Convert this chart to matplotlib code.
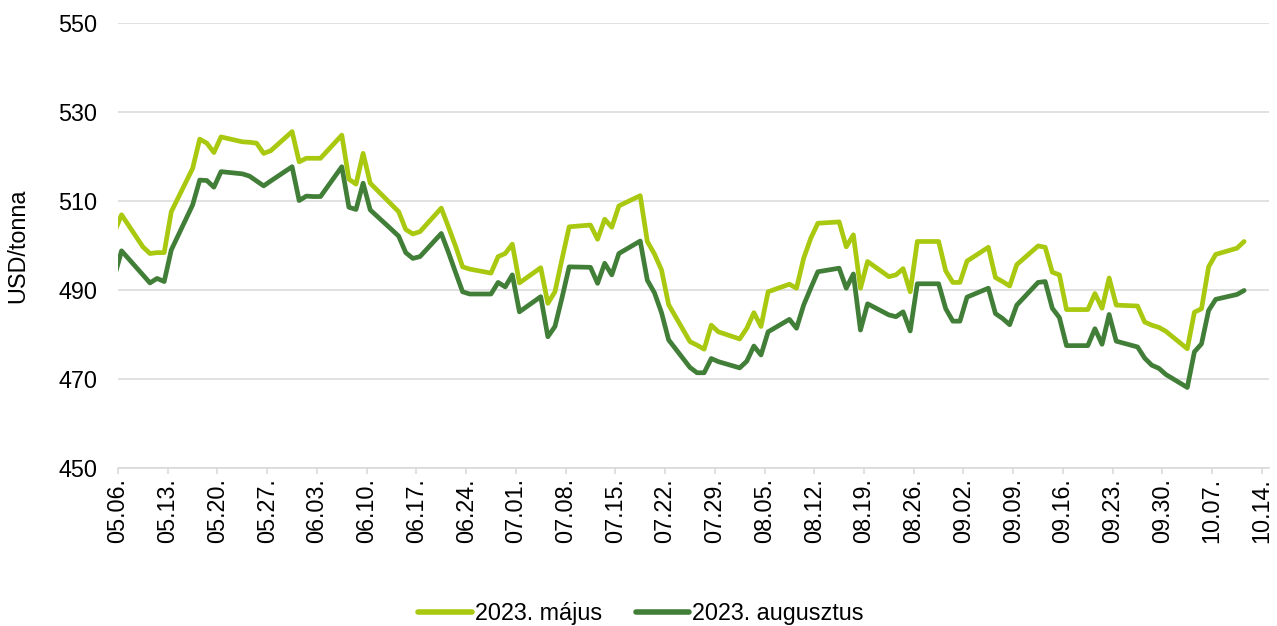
import matplotlib
matplotlib.use("Agg")
import matplotlib.pyplot as plt
import matplotlib.dates as mdates
import pandas as pd

plt.rcParams['font.family'] = ['Liberation Sans', 'DejaVu Sans']

# Trading days (2022), values in USD/tonna
dates = [
    "2022-05-05", "2022-05-06", "2022-05-09", "2022-05-10", "2022-05-11", "2022-05-12", "2022-05-13",
    "2022-05-16", "2022-05-17", "2022-05-18", "2022-05-19", "2022-05-20",
    "2022-05-23", "2022-05-24", "2022-05-25", "2022-05-26", "2022-05-27",
    "2022-05-30", "2022-05-31", "2022-06-01", "2022-06-02", "2022-06-03",
    "2022-06-06", "2022-06-07", "2022-06-08", "2022-06-09", "2022-06-10",
    "2022-06-13", "2022-06-14", "2022-06-15", "2022-06-16", "2022-06-17",
    "2022-06-20", "2022-06-21", "2022-06-22", "2022-06-23", "2022-06-24",
    "2022-06-27", "2022-06-28", "2022-06-29", "2022-06-30", "2022-07-01",
    "2022-07-04", "2022-07-05", "2022-07-06", "2022-07-07", "2022-07-08",
    "2022-07-11", "2022-07-12", "2022-07-13", "2022-07-14", "2022-07-15",
    "2022-07-18", "2022-07-19", "2022-07-20", "2022-07-21", "2022-07-22",
    "2022-07-25", "2022-07-26", "2022-07-27", "2022-07-28", "2022-07-29",
    "2022-08-01", "2022-08-02", "2022-08-03", "2022-08-04", "2022-08-05",
    "2022-08-08", "2022-08-09", "2022-08-10", "2022-08-11", "2022-08-12",
    "2022-08-15", "2022-08-16", "2022-08-17", "2022-08-18", "2022-08-19",
    "2022-08-22", "2022-08-23", "2022-08-24", "2022-08-25", "2022-08-26",
    "2022-08-29", "2022-08-30", "2022-08-31", "2022-09-01", "2022-09-02",
    "2022-09-05", "2022-09-06", "2022-09-07", "2022-09-08", "2022-09-09",
    "2022-09-12", "2022-09-13", "2022-09-14", "2022-09-15", "2022-09-16",
    "2022-09-19", "2022-09-20", "2022-09-21", "2022-09-22", "2022-09-23",
    "2022-09-26", "2022-09-27", "2022-09-28", "2022-09-29", "2022-09-30",
    "2022-10-03", "2022-10-04", "2022-10-05", "2022-10-06", "2022-10-07",
    "2022-10-10", "2022-10-11",
]

majus = [
    503.0, 506.9, 499.7, 498.2, 498.4, 498.4, 507.6,
    517.3, 523.9, 523.0, 520.9, 524.4,
    523.3, 523.2, 523.0, 520.7, 521.3,
    525.6, 518.8, 519.6, 519.6, 519.6,
    524.8, 514.9, 513.8, 520.7, 514.0,
    509.2, 507.6, 503.6, 502.6, 503.1,
    508.4, 504.2, 499.9, 495.2, 494.7,
    493.8, 497.5, 498.2, 500.3, 491.6,
    495.0, 487.0, 489.6, 497.0, 504.2,
    504.6, 501.4, 505.9, 504.1, 508.9,
    511.2, 500.9, 498.1, 494.5, 486.7,
    478.4, 477.6, 476.7, 482.1, 480.6,
    479.0, 481.4, 484.9, 481.8, 489.6,
    491.3, 490.4, 497.1, 501.6, 505.0,
    505.3, 499.7, 502.4, 490.4, 496.4,
    493.0, 493.4, 494.8, 489.6, 500.9,
    500.9, 494.3, 491.7, 491.7, 496.5,
    499.6, 492.8, 491.9, 490.9, 495.7,
    499.9, 499.6, 494.0, 493.4, 485.6,
    485.6, 489.2, 485.9, 492.7, 486.6,
    486.4, 482.8, 482.1, 481.6, 480.7,
    476.8, 485.0, 485.8, 495.2, 498.0,
    499.4, 500.9,
]

augusztus = [
    493.0, 498.8, 493.4, 491.6, 492.6, 491.9, 499.0,
    509.1, 514.7, 514.6, 513.1, 516.6,
    516.1, 515.6, 514.5, 513.4, 514.5,
    517.7, 510.1, 511.1, 511.0, 511.0,
    517.7, 508.6, 508.1, 514.0, 508.0,
    503.6, 502.1, 498.4, 497.1, 497.5,
    502.7, 498.5, 494.0, 489.6, 489.1,
    489.1, 491.7, 490.7, 493.4, 485.1,
    488.5, 479.5, 481.8, 488.3, 495.2,
    495.1, 491.5, 496.0, 493.4, 498.2,
    501.0, 492.2, 489.4, 484.9, 478.8,
    472.6, 471.4, 471.4, 474.6, 473.9,
    472.5, 474.0, 477.4, 475.4, 480.6,
    483.4, 481.4, 486.6, 490.4, 494.1,
    494.9, 490.4, 493.6, 481.0, 486.9,
    484.4, 484.0, 485.1, 480.8, 491.4,
    491.4, 485.8, 483.0, 483.0, 488.4,
    490.4, 484.7, 483.6, 482.2, 486.6,
    491.7, 491.9, 485.9, 483.8, 477.5,
    477.5, 481.3, 477.8, 484.5, 478.5,
    477.2, 474.7, 473.1, 472.4, 471.0,
    468.1, 476.1, 477.9, 485.4, 487.9,
    489.0, 489.9,
]

series_names = ["2023. május", "2023. augusztus"]
series_colors = ["#A8C90F", "#417E37"]
y_label = "USD/tonna"
y_ticks = [450, 470, 490, 510, 530, 550]
tick_start, tick_end = "2022-05-06", "2022-10-14"

# points sit in the middle of each day slot (date axis, between tick marks)
x = pd.to_datetime(dates) + pd.Timedelta(hours=12)

fig = plt.figure(figsize=(12.77, 6.26), dpi=100)
ax = fig.add_axes([118 / 1277, 1 - 468 / 626, (1269 - 118) / 1277, (468 - 23) / 626])

for vals, name, col in zip([majus, augusztus], series_names, series_colors):
    ax.plot(x, vals, color=col, lw=3.4, label=name, solid_joinstyle='round',
            solid_capstyle='round', zorder=3)

ax.set_ylim(450, 550)
ax.set_yticks(y_ticks)
ax.set_xlim(pd.Timestamp(tick_start), pd.Timestamp(tick_end) + pd.Timedelta(days=1))
xt = pd.date_range(tick_start, tick_end, freq="7D")
ax.set_xticks(xt)
ax.set_xticklabels([d.strftime("%m.%d.") for d in xt], rotation=90)

ax.grid(axis='y', color='#D9D9D9', lw=1.1, zorder=0)
for s in ['top', 'right', 'left']:
    ax.spines[s].set_visible(False)
ax.spines['bottom'].set_color('#D9D9D9')
ax.spines['bottom'].set_linewidth(1.1)
ax.tick_params(axis='y', length=0, pad=15, labelsize=16.8, labelcolor='#000000')
ax.tick_params(axis='x', length=4.5, width=1.1, color='#D9D9D9', pad=3,
               labelsize=16.8, labelcolor='#000000')
ax.set_ylabel(y_label, fontsize=16.8)
ax.yaxis.set_label_coords(-0.077, 0.5)

leg = fig.legend(loc='center', bbox_to_anchor=(0.502, 0.02), ncol=2, frameon=False,
                 fontsize=16.8, handlelength=2.3, handletextpad=0.12,
                 columnspacing=1.45, borderaxespad=0)
for h in leg.get_lines():
    h.set_linewidth(4)
    h.set_solid_capstyle('round')

fig.savefig("out.png", dpi=100)
